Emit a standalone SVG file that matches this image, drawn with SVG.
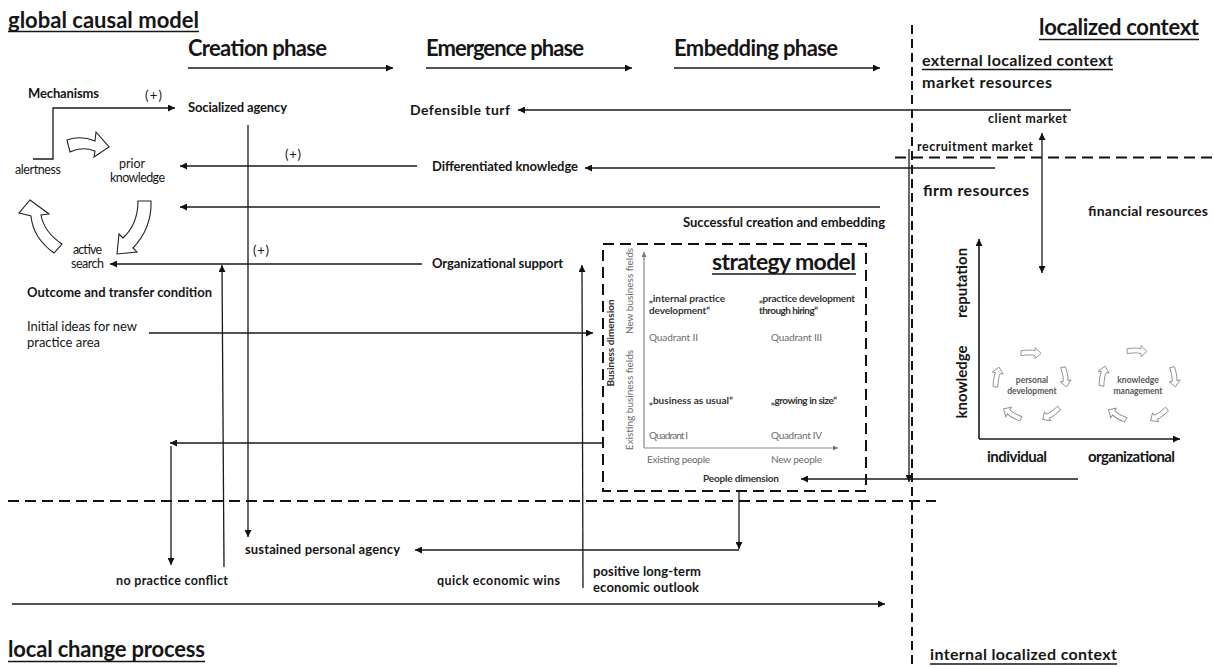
<svg xmlns="http://www.w3.org/2000/svg" width="1213" height="668" viewBox="0 0 1213 668">
  <style>
    text { font-family: Lato, "Liberation Sans", "DejaVu Sans", sans-serif; fill: #161616; }
    .b { font-weight: bold; }
    .t20 { font-size: 22px; }
    .t21 { font-size: 22px; }
    .t15 { font-size: 16px; }
    .t13 { font-size: 14px; }
    .t12 { font-size: 13px; }
    .t11 { font-size: 12.5px; }
    .s9 { font-size: 10px; }
    .s8 { font-size: 8.5px; }
    .grey { fill: #6b6b6b; }
    .dark { fill: #333; }
    .mid { fill: #555; }
    .ln { stroke: #1a1a1a; stroke-width: 1.3; fill: none; }
    .ax { stroke: #1a1a1a; stroke-width: 1.6; fill: none; }
    .gax { stroke: #8a8a8a; stroke-width: 1.2; fill: none; }
    .ul { stroke: #161616; stroke-width: 1.4; }
    .dv { stroke: #111; stroke-width: 2; stroke-dasharray: 9 5; fill: none; }
    .dh { stroke: #111; stroke-width: 2; stroke-dasharray: 11 6; fill: none; }
    .blk { fill: #fff; stroke: #222; stroke-width: 1.1; }
    .cyc { fill: #fff; stroke: #8c8c8c; stroke-width: 0.9; }
  </style>
  <defs>
    <marker id="ah" viewBox="0 0 10 10" refX="10" refY="5" markerWidth="9" markerHeight="7" markerUnits="userSpaceOnUse" orient="auto-start-reverse">
      <path d="M0,0 L10,5 L0,10 Z" fill="#111"/>
    </marker>
    <marker id="ahg" viewBox="0 0 10 10" refX="10" refY="5" markerWidth="6" markerHeight="5" markerUnits="userSpaceOnUse" orient="auto">
      <path d="M0,0 L10,5 L0,10 Z" fill="#777"/>
    </marker>
    <!-- small outlined cycle arrow, pointing right, centred on origin -->
    <path id="cyc" d="M-10,-2.2 Q0,-3.6 4,-2.2 L4,-5.5 L10,0.3 L4,5.5 L4,2.6 Q0,1.2 -10,2.6 Z"/>
  </defs>

  <!-- region dividers -->
  <g id="dividers">
    <line class="dv" x1="912" y1="25" x2="912" y2="668"/>
    <line class="dh" x1="895" y1="157.5" x2="1213" y2="157.5"/>
    <line class="dh" x1="8" y1="501" x2="936" y2="501"/>
  </g>

  <!-- section titles -->
  <g id="title-global">
    <text class="b t20" x="8" y="28" textLength="191">global causal model</text>
    <line class="ul" x1="8" y1="31.5" x2="199" y2="31.5"/>
  </g>
  <g id="title-localized">
    <text class="b t20" x="1039" y="35" textLength="160">localized context</text>
    <line class="ul" x1="1039" y1="39.5" x2="1199" y2="39.5"/>
  </g>
  <g id="title-external">
    <text class="b t15" x="922" y="66" textLength="191">external localized context</text>
    <line class="ul" x1="922" y1="69.5" x2="1113" y2="69.5" stroke-width="1.1"/>
  </g>
  <g id="title-local">
    <text class="b t20" x="8" y="657" textLength="197">local change process</text>
    <line class="ul" x1="8" y1="661.5" x2="205" y2="661.5"/>
  </g>
  <g id="title-internal">
    <text class="b t15" x="930" y="660" textLength="187">internal localized context</text>
    <line class="ul" x1="930" y1="664" x2="1117" y2="664" stroke-width="1.1"/>
  </g>

  <!-- phases -->
  <g id="phase-creation"><text class="b t21" x="188" y="56" textLength="139">Creation phase</text></g>
  <g id="phase-emergence"><text class="b t21" x="426" y="56" textLength="158">Emergence phase</text></g>
  <g id="phase-embedding"><text class="b t21" x="674" y="56" textLength="164">Embedding phase</text></g>

  <!-- mechanisms cycle -->
  <g id="mechanisms"><text class="b t12" x="28" y="98" textLength="71">Mechanisms</text></g>
  <g id="plus-1"><text class="t12" x="145" y="100" textLength="17">(+)</text></g>
  <g id="alertness"><text class="t11" x="15" y="174" textLength="46">alertness</text></g>
  <g id="prior-knowledge">
    <text class="t11" x="132" y="168" text-anchor="middle">prior</text>
    <text class="t11" x="110" y="182" textLength="55">knowledge</text>
  </g>
  <g id="active-search">
    <text class="t11" x="73" y="254" textLength="29">active</text>
    <text class="t11" x="71" y="268" textLength="33">search</text>
  </g>
  <g id="cycle-arrows">
    <path class="blk" d="M67,140 Q81,135 95,141 L96,132 L109,147 L94,157 L95,151 Q82,146 70,152 Z"/>
    <path class="blk" d="M138,201 L151,201 Q152,228 133,248 L137,252 L117,254 L119,234 L123,238 Q138,224 138,201 Z"/>
    <path class="blk" d="M30,200 L49,214 L41,215 Q44,232 62,244 L54,253 Q33,238 31,216 L19,213 Z"/>
  </g>

  <!-- global model nodes -->
  <g id="socialized-agency"><text class="b t12" x="188" y="112" textLength="99">Socialized agency</text></g>
  <g id="defensible-turf"><text class="b t13" x="410" y="115" textLength="100">Defensible turf</text></g>
  <g id="plus-2"><text class="t12" x="285" y="159" textLength="16">(+)</text></g>
  <g id="differentiated-knowledge"><text class="b t12" x="432" y="171" textLength="146">Differentiated knowledge</text></g>
  <g id="successful"><text class="b t12" x="683" y="227" textLength="202">Successful creation and embedding</text></g>
  <g id="plus-3"><text class="t12" x="253" y="255" textLength="16">(+)</text></g>
  <g id="organizational-support"><text class="b t12" x="432" y="268" textLength="131">Organizational support</text></g>
  <g id="outcome"><text class="b t12" x="27" y="297" textLength="185">Outcome and transfer condition</text></g>
  <g id="initial-ideas">
    <text class="t12" x="27" y="331" textLength="110">Initial ideas for new</text>
    <text class="t12" x="27" y="347" textLength="73">practice area</text>
  </g>

  <!-- local change process nodes -->
  <g id="sustained-agency"><text class="b t12" x="245" y="554" textLength="155">sustained personal agency</text></g>
  <g id="no-conflict"><text class="b t11" x="116" y="585" textLength="112">no practice conflict</text></g>
  <g id="quick-wins"><text class="b t11" x="437" y="585" textLength="123">quick economic wins</text></g>
  <g id="long-term">
    <text class="b t12" x="593" y="576" textLength="108">positive long-term</text>
    <text class="b t12" x="593" y="592" textLength="106">economic outlook</text>
  </g>

  <!-- localized context nodes -->
  <g id="market-resources"><text class="b t15" x="922" y="88" textLength="130">market resources</text></g>
  <g id="client-market"><text class="b t11" x="988" y="123" textLength="79">client market</text></g>
  <g id="recruitment-market"><text class="b t11" x="917" y="151" textLength="116">recruitment market</text></g>
  <g id="firm-resources"><text class="b t15" x="923" y="196" textLength="106">firm resources</text></g>
  <g id="financial-resources"><text class="b t13" x="1088" y="216" textLength="120">financial resources</text></g>

  <!-- resource chart -->
  <g id="resource-chart">
    <line class="ax" x1="979" y1="439" x2="979" y2="239" marker-end="url(#ah)"/>
    <line class="ax" x1="979" y1="439" x2="1180" y2="439" marker-end="url(#ah)"/>
    <text class="b" transform="translate(967,283) rotate(-90)" text-anchor="middle" font-size="15">reputation</text>
    <text class="b" transform="translate(967,382) rotate(-90)" text-anchor="middle" font-size="15">knowledge</text>
    <text class="b" x="987" y="462" textLength="60" font-size="15">individual</text>
    <text class="b" x="1088" y="462" textLength="87" font-size="15">organizational</text>
  </g>
  <g id="personal-development">
    <text class="b s8 mid" x="1032" y="383" text-anchor="middle">personal</text>
    <text class="b s8 mid" x="1032" y="394" text-anchor="middle">development</text>
    <use href="#cyc" class="cyc" transform="translate(1031,353)"/>
    <use href="#cyc" class="cyc" transform="translate(1065,377) rotate(80)"/>
    <use href="#cyc" class="cyc" transform="translate(1051,414) rotate(145)"/>
    <use href="#cyc" class="cyc" transform="translate(1012,414) rotate(210)"/>
    <use href="#cyc" class="cyc" transform="translate(997,377) rotate(280)"/>
  </g>
  <g id="knowledge-management">
    <text class="b s8 mid" x="1138" y="383" text-anchor="middle">knowledge</text>
    <text class="b s8 mid" x="1138" y="394" text-anchor="middle">management</text>
    <use href="#cyc" class="cyc" transform="translate(1137,351)"/>
    <use href="#cyc" class="cyc" transform="translate(1174,377) rotate(80)"/>
    <use href="#cyc" class="cyc" transform="translate(1159,415) rotate(145)"/>
    <use href="#cyc" class="cyc" transform="translate(1117,415) rotate(210)"/>
    <use href="#cyc" class="cyc" transform="translate(1103,376) rotate(280)"/>
  </g>

  <!-- strategy model -->
  <g id="strategy-model">
    <rect x="603" y="244" width="263" height="247" class="dh" stroke-dasharray="9 5"/>
    <text class="b" x="712" y="270" font-size="23" textLength="144">strategy model</text>
    <line class="ul" x1="712" y1="274" x2="856" y2="274" stroke-width="1.6"/>
    <line class="gax" x1="644" y1="448" x2="644" y2="252" marker-end="url(#ahg)"/>
    <line class="gax" x1="644" y1="448" x2="838" y2="448" marker-end="url(#ahg)"/>
    <text class="b s9 dark" transform="translate(613.5,343) rotate(-90)" text-anchor="middle">Business dimension</text>
    <text class="s9 grey" transform="translate(632.5,291) rotate(-90)" text-anchor="middle">New business fields</text>
    <text class="s9 grey" transform="translate(632.5,400) rotate(-90)" text-anchor="middle">Existing business fields</text>
    <text class="b s9 dark" x="649" y="302" textLength="76">„internal practice</text>
    <text class="b s9 dark" x="649" y="314" textLength="61">development“</text>
    <text class="b s9 dark" x="759" y="302" textLength="96">„practice development</text>
    <text class="b s9 dark" x="759" y="314" textLength="59">through hiring“</text>
    <text class="s9 grey" x="649" y="341" textLength="49">Quadrant II</text>
    <text class="s9 grey" x="771" y="341" textLength="51">Quadrant III</text>
    <text class="b s9 dark" x="649" y="404" textLength="84">„business as usual“</text>
    <text class="b s9 dark" x="771" y="404" textLength="66">„growing in size“</text>
    <text class="s9 grey" x="649" y="439" textLength="39">Quadrant I</text>
    <text class="s9 grey" x="771" y="439" textLength="51">Quadrant IV</text>
    <text class="s9 grey" x="647" y="463" textLength="63">Existing people</text>
    <text class="s9 grey" x="771" y="463" textLength="51">New people</text>
    <text class="b s9 dark" x="703" y="482" textLength="76">People dimension</text>
  </g>

  <!-- connectors -->
  <g id="connectors">
    <line class="ln" x1="188" y1="68" x2="393" y2="68" marker-end="url(#ah)"/>
    <line class="ln" x1="426" y1="68" x2="632" y2="68" marker-end="url(#ah)"/>
    <line class="ln" x1="674" y1="68" x2="880" y2="68" marker-end="url(#ah)"/>
    <polyline class="ln" points="33,159 53,159 53,108 175,108" marker-end="url(#ah)"/>
    <line class="ln" x1="248" y1="125" x2="248" y2="537" marker-end="url(#ah)"/>
    <line class="ln" x1="1071" y1="110" x2="518" y2="110" marker-end="url(#ah)"/>
    <line class="ln" x1="1042" y1="273" x2="1042" y2="133" marker-start="url(#ah)" marker-end="url(#ah)"/>
    <line class="ln" x1="909" y1="149" x2="909" y2="482" marker-end="url(#ah)"/>
    <line class="ln" x1="995" y1="168" x2="585" y2="168" marker-end="url(#ah)"/>
    <line class="ln" x1="417" y1="166" x2="180" y2="166" marker-end="url(#ah)"/>
    <line class="ln" x1="880" y1="207" x2="180" y2="207" marker-end="url(#ah)"/>
    <line class="ln" x1="422" y1="264" x2="110" y2="264" marker-end="url(#ah)"/>
    <line class="ln" x1="224" y1="567" x2="222" y2="265" marker-end="url(#ah)"/>
    <line class="ln" x1="583" y1="588" x2="582" y2="265" marker-end="url(#ah)"/>
    <line class="ln" x1="149" y1="333" x2="593" y2="333" marker-end="url(#ah)"/>
    <line class="ln" x1="602" y1="443" x2="170" y2="443" marker-end="url(#ah)"/>
    <line class="ln" x1="171" y1="446" x2="171" y2="565" marker-end="url(#ah)"/>
    <line class="ln" x1="1078" y1="479" x2="801" y2="479" marker-end="url(#ah)"/>
    <line class="ln" x1="739" y1="491" x2="739" y2="549" marker-end="url(#ah)"/>
    <line class="ln" x1="739" y1="550" x2="415" y2="550" marker-end="url(#ah)"/>
    <line class="ln" x1="12" y1="604" x2="885" y2="604" marker-end="url(#ah)"/>
  </g>
</svg>
